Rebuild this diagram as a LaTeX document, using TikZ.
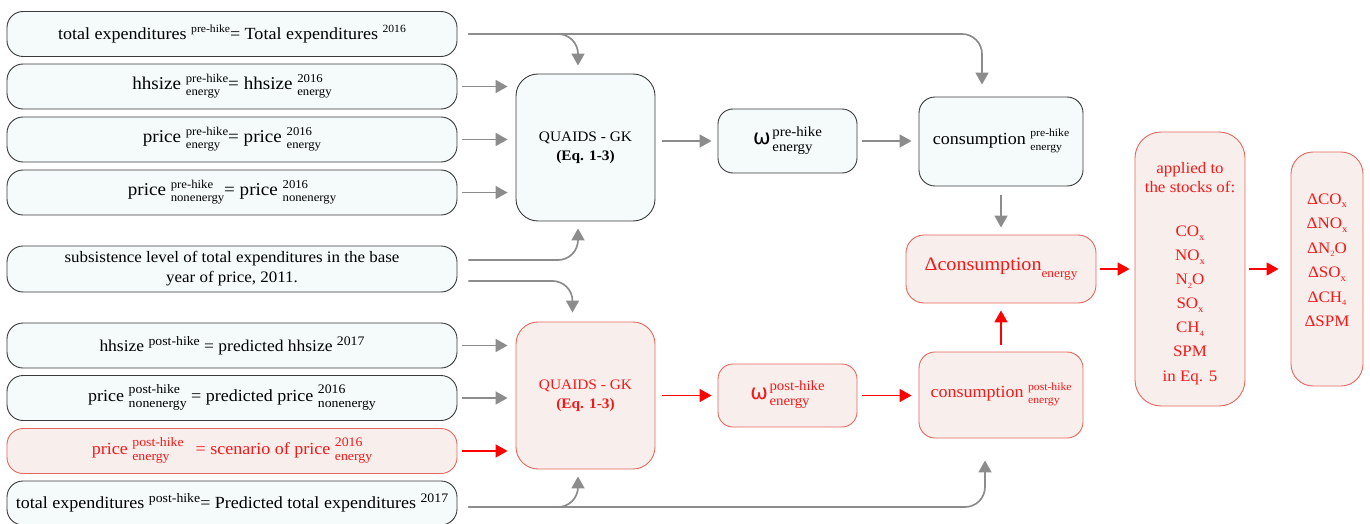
\documentclass[tikz,border=0pt]{standalone}
\usepackage{fontspec}
\setmainfont{Liberation Serif}[FakeStretch=1.06]
\newfontfamily\symfont{DejaVu Sans}
\usetikzlibrary{arrows.meta,calc}

\definecolor{fcyan}{HTML}{F4FBFA}
\definecolor{bdark}{HTML}{3A3A3A}
\definecolor{fred}{HTML}{F8EFEC}
\definecolor{bred}{HTML}{E5675E}
\definecolor{tred}{HTML}{F41818}
\definecolor{agray}{HTML}{8C8C8C}
\definecolor{ared}{HTML}{FF0000}

% raised label
\newcommand\up[2][11]{\raisebox{6.5pt}{\fontsize{#1}{#1}\selectfont #2}}
% stacked super/subscript label
\newcommand\stk[3][12]{{\fontsize{#1}{#1}\selectfont\begin{tabular}[c]{@{}l@{}}#2\\[1pt]#3\end{tabular}}}
% stacked label with a little more air, for the consumption boxes
\newcommand\stkc[2]{{\fontsize{11}{11}\selectfont\begin{tabular}[c]{@{}l@{}}#1\\[2.5pt]#2\end{tabular}}}
% lowered chemical index
\newcommand\sbx[2][10]{\raisebox{-3.5pt}{\fontsize{#1}{#1}\selectfont #2}}

\begin{document}
\begin{tikzpicture}[x=1pt,y=-1pt,
  every node/.style={inner sep=0pt, align=center},
  inbox/.style={draw=bdark, fill=fcyan, line width=0.9pt, rounded corners=16pt,
    minimum width=450pt, minimum height=45pt, font=\fontsize{16.5}{19}\selectfont},
  inred/.style={inbox, draw=bred, fill=fred, text=tred},
  cyanbox/.style={draw=bdark, fill=fcyan, line width=0.9pt},
  redbox/.style={draw=bred, fill=fred, text=tred, line width=0.9pt},
  garr/.style={draw=agray, line width=1.7pt, -{Triangle[length=12pt,width=13pt]}},
  rarr/.style={draw=ared, line width=1.7pt, -{Triangle[length=12pt,width=13pt]}}]

\useasboundingbox (0,0) rectangle (1370,524);

% input boxes
\node[inbox, font=\fontsize{17}{19}\selectfont] (B1) at (232,34) {total expenditures \up{pre-hike}= Total expenditures \up{2016}};
\node[inbox, font=\fontsize{18}{19}\selectfont] (B2) at (232,86.5) {hhsize \stk{pre-hike}{energy}= hhsize \stk{2016}{energy}};
\node[inbox, font=\fontsize{18}{19}\selectfont] (B3) at (232,139.5) {price \stk{pre-hike}{energy}= price \stk{2016}{energy}};
\node[inbox, font=\fontsize{18}{19}\selectfont] (B4) at (232,192.5) {price \stk{pre-hike}{nonenergy}= price \stk{2016}{nonenergy}};
\node[inbox, minimum height=46pt, font=\fontsize{16}{20}\selectfont] (B5) at (232,269)
  {subsistence level of total expenditures in the base\\year of price, 2011.};
\node[inbox, font=\fontsize{16.5}{19}\selectfont] (B6) at (232,345.5) {hhsize \up[13]{post-hike} = predicted hhsize \up[13]{2017}};
\node[inbox, font=\fontsize{17}{19}\selectfont] (B7) at (232,398) {price \stk[13]{post-hike}{nonenergy} = predicted price \stk[13]{2016}{nonenergy}};
\node[inred, font=\fontsize{17}{19}\selectfont] (B8) at (232,451) {price \stk[13]{post-hike}{energy}\hspace{12pt}= scenario of price \stk[13]{2016}{energy}};
\node[inbox, minimum height=44pt, font=\fontsize{17}{19}\selectfont] (B9) at (232,503) {total expenditures \up[13]{post-hike}= Predicted total expenditures \up[13]{2017}};

% demand system
\node[cyanbox, rounded corners=22pt, minimum width=139pt, minimum height=147pt,
  font=\fontsize{14.5}{19}\selectfont] (Q1) at (585.5,147.5) {QUAIDS - GK\\\textbf{(Eq. 1-3)}};
\node[redbox, rounded corners=22pt, minimum width=139pt, minimum height=147pt,
  font=\fontsize{14.5}{19}\selectfont] (Q2) at (585.5,395.5) {QUAIDS - GK\\\textbf{(Eq. 1-3)}};

% budget shares
\node[cyanbox, rounded corners=15pt, minimum width=139pt, minimum height=64pt] (O1) at (787.5,141)
  {{\symfont\fontsize{21}{21}\selectfont ω}\,\stk[14]{pre-hike}{energy}};
\node[redbox, rounded corners=15pt, minimum width=139pt, minimum height=63pt] (O2) at (787.5,395.5)
  {{\symfont\fontsize{21}{21}\selectfont ω}\,\stk[14]{post-hike}{energy}};

% consumption
\node[cyanbox, rounded corners=16pt, minimum width=164pt, minimum height=89pt,
  font=\fontsize{17}{19}\selectfont] (C1) at (1001,141.5) {consumption \stkc{pre-hike}{energy}};
\node[redbox, rounded corners=16pt, minimum width=164pt, minimum height=86pt,
  font=\fontsize{17}{19}\selectfont] (C2) at (1001,395) {consumption \stkc{post-hike}{energy}};
\node[redbox, rounded corners=18pt, minimum width=190pt, minimum height=68pt,
  font=\fontsize{19}{19}\selectfont] (DC) at (1001,269)
  {Δconsumption\raisebox{-7pt}{\fontsize{12.5}{12.5}\selectfont energy}};

% emissions
\node[redbox, rounded corners=26pt, minimum width=110pt, minimum height=274pt,
  font=\fontsize{16}{24}\selectfont] (S) at (1190,269)
  {\mbox{}\\[-4pt]applied to\\[-5pt]the stocks of:\\[20pt]
   CO\sbx{x}\\NO\sbx{x}\\N\sbx[8]{2}O\\SO\sbx{x}\\CH\sbx[8]{4}\\SPM\\[0.5pt]in Eq. 5};
\node[redbox, rounded corners=22pt, minimum width=72pt, minimum height=234pt,
  font=\fontsize{16}{24.5}\selectfont] (D) at (1327,269)
  {ΔCO\sbx{x}\\ΔNO\sbx{x}\\ΔN\sbx[8]{2}O\\ΔSO\sbx{x}\\ΔCH\sbx[8]{4}\\ΔSPM\\[-7pt]\mbox{}};

% inputs into the pre-hike system
\draw[garr, shorten <=5pt, shorten >=8pt] (B2.east) -- (B2.east -| Q1.west);
\draw[garr, shorten <=5pt, shorten >=8pt] (B3.east) -- (B3.east -| Q1.west);
\draw[garr, shorten <=5pt, shorten >=8pt] (B4.east) -- (B4.east -| Q1.west);
\coordinate (t1) at ($(B1.east)+(11,0)$);
\draw[garr, rounded corners=20pt] (t1) -| ($(Q1.north)+(-7.5,-8)$);
\draw[garr, rounded corners=20pt] (t1) -| ($(C1.north)+(-19,-12)$);
\draw[garr, rounded corners=20pt] ($(B5.east)+(11,-9)$) -| ($(Q1.south)+(-7.5,7)$);

% inputs into the post-hike system
\draw[garr, rounded corners=20pt] ($(B5.east)+(11,12)$) -| ($(Q2.north)+(-13,-9)$);
\draw[garr, shorten <=5pt, shorten >=8pt] (B6.east) -- (B6.east -| Q2.west);
\draw[garr, shorten <=5pt, shorten >=8pt] (B7.east) -- (B7.east -| Q2.west);
\draw[rarr, shorten <=5pt, shorten >=8pt] (B8.east) -- (B8.east -| Q2.west);
\coordinate (t9) at ($(B9.east)+(11,4)$);
\draw[garr, rounded corners=20pt] (t9) -| ($(Q2.south)+(-7.5,7)$);
\draw[garr, rounded corners=20pt] (t9) -| ($(C2.south)+(-16,22)$);

% pre-hike chain
\draw[garr, shorten <=7pt, shorten >=6pt] (Q1.east |- O1.west) -- (O1.west);
\draw[garr, shorten <=5pt, shorten >=7pt] (O1.east) -- (O1.east -| C1.west);
\draw[garr, shorten <=9pt, shorten >=7pt] (C1.south) -- (DC.north);

% post-hike chain
\draw[rarr, shorten <=7pt, shorten >=6pt] (Q2.east |- O2.west) -- (O2.west);
\draw[rarr, shorten <=5pt, shorten >=7pt] (O2.east) -- (O2.east -| C2.west);
\draw[rarr, shorten <=7pt, shorten >=7pt] (C2.north) -- (DC.south);

% emissions chain
\draw[rarr, shorten <=4pt, shorten >=5pt] (DC.east) -- (DC.east -| S.west);
\draw[rarr, shorten <=4pt, shorten >=12pt] (S.east) -- (S.east -| D.west);
\end{tikzpicture}
\end{document}
